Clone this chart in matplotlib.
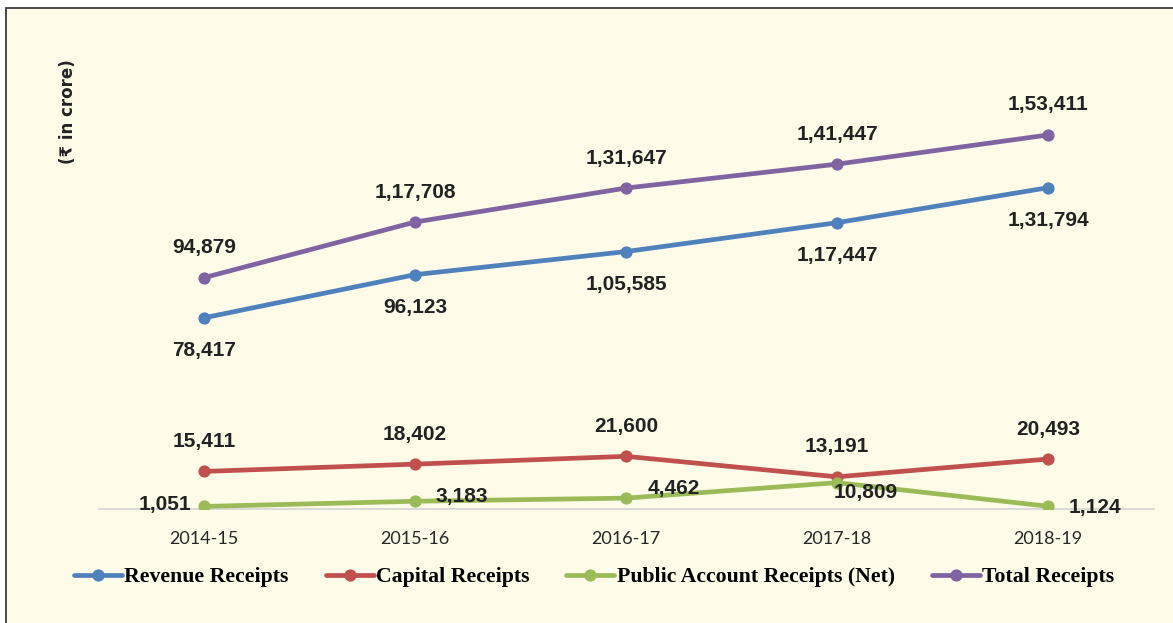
import matplotlib.pyplot as plt
import numpy as np
from matplotlib.patches import Rectangle

years = ['2014-15', '2015-16', '2016-17', '2017-18', '2018-19']
revenue = [78417, 96123, 105585, 117447, 131794]
capital = [15411, 18402, 21600, 13191, 20493]
public_acc = [1051, 3183, 4462, 10809, 1124]
total = [94879, 117708, 131647, 141447, 153411]

rev_lbl = ['78,417', '96,123', '1,05,585', '1,17,447', '1,31,794']
cap_lbl = ['15,411', '18,402', '21,600', '13,191', '20,493']
pub_lbl = ['1,051', '3,183', '4,462', '10,809', '1,124']
tot_lbl = ['94,879', '1,17,708', '1,31,647', '1,41,447', '1,53,411']

bg = '#FEFBE8'
fig = plt.figure(figsize=(11.73, 6.23), dpi=100, facecolor='white')
# cream panel with thin dark border on top/left
panel = Rectangle((5.5/1173, -0.1), 1.2, 1.1 - 7.5/623, transform=fig.transFigure,
                  facecolor=bg, edgecolor='#3a3a3a', linewidth=1.3, zorder=-5)
fig.add_artist(panel)

ax = fig.add_axes([98.5/1173, (623-509)/623, 1055/1173, 487.6/623])
ax.set_facecolor('none')
x = np.arange(len(years))

series = [
    (revenue, '#4F81BD', 'Revenue Receipts'),
    (capital, '#C0504D', 'Capital Receipts'),
    (public_acc, '#9BBB59', 'Public Account Receipts (Net)'),
    (total, '#8064A2', 'Total Receipts'),
]
for ys, col, name in series:
    ax.plot(x, ys, color=col, lw=3.4, marker='o', ms=8, mec=col, mew=0.8,
            label=name, solid_capstyle='round', zorder=3)

ax.set_xlim(-0.5, 4.5)
ax.set_ylim(0, 200000)
for s in ['top', 'right', 'left']:
    ax.spines[s].set_visible(False)
ax.spines['bottom'].set_color('#D4D4D4')
ax.spines['bottom'].set_linewidth(1.2)
ax.set_yticks([])
ax.set_xticks(x)
ax.set_xticklabels(years, fontsize=13, family=['Lato', 'DejaVu Sans'], color='#262626')
ax.tick_params(axis='x', length=0, pad=16)

lf = dict(fontsize=15, fontweight='bold', family=['Liberation Sans', 'DejaVu Sans'], color='#222222',
          textcoords='offset pixels', va='center')
for i in range(5):
    ax.annotate(tot_lbl[i], (x[i], total[i]), xytext=(0, 30), ha='center', **lf)
    ax.annotate(rev_lbl[i], (x[i], revenue[i]), xytext=(0, -33), ha='center', **lf)
    ax.annotate(cap_lbl[i], (x[i], capital[i]), xytext=(0, 30), ha='center', **lf)

pub_off = [(-13, 2, 'right'), (20, 5, 'left'), (22, 10, 'left'), (-3, -10, 'left'), (21, -1, 'left')]
for i, (dx, dy, ha) in enumerate(pub_off):
    ax.annotate(pub_lbl[i], (x[i], public_acc[i]), xytext=(dx, dy), ha=ha, **lf)

fig.text(68/1173, 1 - 112/623, '(₹ in crore)', rotation=90, ha='center', va='center',
         fontsize=12, fontweight='bold', family=['DejaVu Sans'], color='#222222')

fig.legend(loc='center', bbox_to_anchor=(594/1173, 1 - 577/623), ncol=4, frameon=False,
           prop={'family': 'Liberation Serif', 'weight': 'bold', 'size': 15.7},
           handlelength=2.2, handletextpad=0.1, columnspacing=1.7)

fig.savefig('out.png', dpi=100, facecolor='white')
